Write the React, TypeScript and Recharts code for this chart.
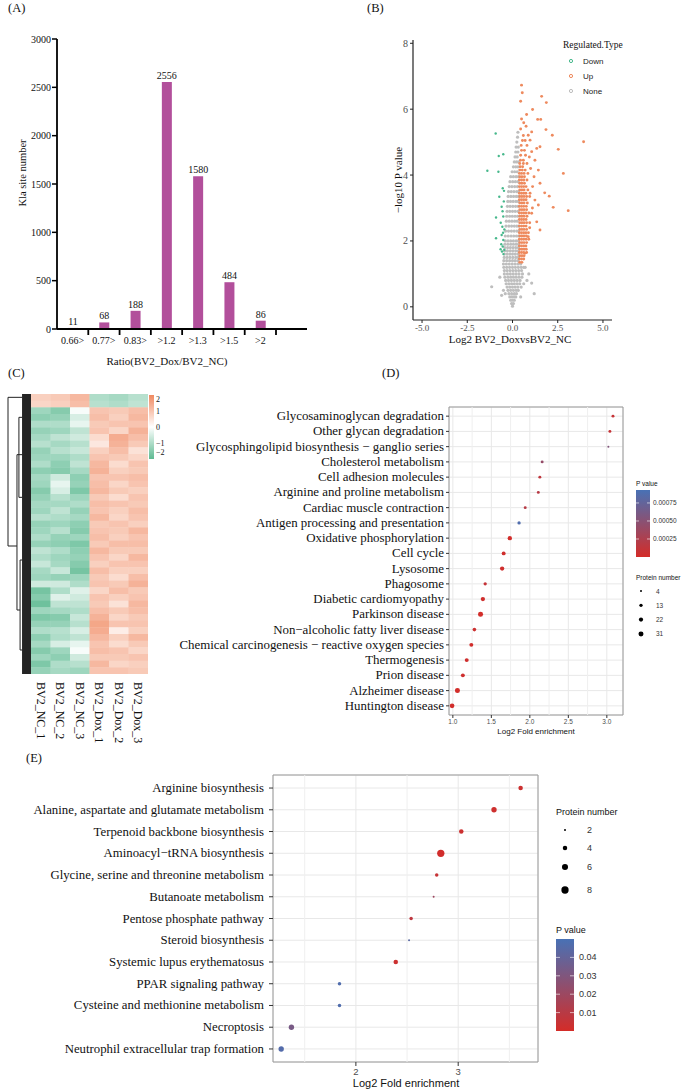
import React from 'react';
import {
  BarChart,
  Bar,
  XAxis,
  YAxis,
  LabelList,
  ScatterChart,
  Scatter,
  CartesianGrid,
  ReferenceLine,
  ReferenceArea,
} from 'recharts';

const SERIF = '"Liberation Serif", "Times New Roman", serif';
const SANS = '"Liberation Sans", Arial, sans-serif';

// (A) Kla sites per ratio bin
const ratioBins = ['0.66>', '0.77>', '0.83>', '>1.2', '>1.3', '>1.5', '>2'];
const klaSites = [11, 68, 188, 2556, 1580, 484, 86];
const klaTicks = [0, 500, 1000, 1500, 2000, 2500, 3000];

// (B) volcano. Dense parts as [-log10 p, [log2 FC...]] rows, sparse parts as [log2 FC, -log10 p]
const noneRows: [number, number[]][] = [
  [0.02, [0]], [0.1, [-0.05, 0.05]], [0.2, [-0.1, 0, 0.1]],
  [0.3, [-0.15, -0.03, 0.08, 0.18, 0.45]], [0.4, [-0.4, -0.2, -0.05, 0.1, 0.22]],
  [0.5, [-0.5, -0.25, -0.1, 0.05, 0.2, 0.32]], [0.6, [-0.3, -0.15, 0, 0.15, 0.3, 0.48]],
  [0.7, [-0.35, -0.2, -0.05, 0.1, 0.25, 0.4, 0.62]], [0.8, [-0.38, -0.22, -0.06, 0.1, 0.26, 0.42]],
  [0.9, [-0.42, -0.25, -0.1, 0.05, 0.2, 0.36, 0.52]], [1.0, [-0.45, -0.28, -0.12, 0.04, 0.2, 0.36, 0.55]],
  [1.1, [-0.45, -0.3, -0.14, 0.02, 0.18, 0.34, 0.5]], [1.2, [-0.48, -0.32, -0.16, 0, 0.16, 0.32, 0.48, 0.62]],
  [1.3, [-0.5, -0.34, -0.18, -0.02, 0.14, 0.3, 0.45]], [1.4, [-0.48, -0.32, -0.16, 0, 0.15, 0.3]],
  [1.5, [-0.46, -0.3, -0.14, 0.02, 0.18, 0.32]], [1.6, [-0.45, -0.3, -0.15, 0, 0.15, 0.3]],
  [1.7, [-0.44, -0.28, -0.12, 0.03, 0.18, 0.32]], [1.8, [-0.43, -0.27, -0.12, 0.03, 0.18, 0.32]],
  [1.9, [-0.42, -0.26, -0.1, 0.05, 0.2, 0.33]], [2.0, [-0.4, -0.25, -0.1, 0.05, 0.2, 0.33]],
  [2.15, [-0.4, -0.24, -0.08, 0.07, 0.22, 0.34]], [2.3, [-0.38, -0.22, -0.06, 0.09, 0.24, 0.34]],
  [2.45, [-0.36, -0.2, -0.05, 0.1, 0.24, 0.35]], [2.6, [-0.34, -0.18, -0.03, 0.12, 0.26]],
  [2.75, [-0.32, -0.16, -0.01, 0.14, 0.28]], [2.9, [-0.3, -0.15, 0, 0.15, 0.3]],
  [3.05, [-0.28, -0.13, 0.02, 0.17, 0.31]], [3.2, [-0.26, -0.11, 0.04, 0.19, 0.32]],
  [3.35, [-0.24, -0.09, 0.06, 0.21, 0.33]], [3.5, [-0.22, -0.07, 0.08, 0.23, 0.34]],
  [3.65, [-0.18, -0.03, 0.12, 0.27]], [3.8, [-0.14, 0.01, 0.16, 0.3]], [3.95, [-0.1, 0.05, 0.2, 0.33]],
  [4.1, [-0.02, 0.12, 0.26]], [4.25, [0.05, 0.18, 0.3]], [4.4, [0.1, 0.22, 0.33]],
  [4.55, [0.14, 0.26]], [4.7, [0.18, 0.3]], [4.85, [0.2, 0.32]], [5.0, [0.24]], [5.15, [0.28]], [5.3, [0.3]],
];
const noneOutliers = [[-1.15, 0.61], [1.06, 0.72], [1.2, 0.4], [-0.6, 0.35], [0.9, 1.0], [0.7, 1.2], [0.8, 0.8], [-0.7, 0.9]];
const upRows: [number, number[]][] = [
  [1.35, [0.4, 0.52]], [1.45, [0.38, 0.5, 0.62]], [1.55, [0.4, 0.52, 0.64]], [1.65, [0.38, 0.5, 0.62, 0.78]],
  [1.75, [0.4, 0.52, 0.64, 0.76]], [1.85, [0.38, 0.5, 0.62, 0.74]], [1.95, [0.4, 0.52, 0.64, 0.78]],
  [2.05, [0.38, 0.5, 0.62, 0.75, 0.9]], [2.15, [0.4, 0.52, 0.64, 0.77]], [2.25, [0.38, 0.5, 0.62, 0.74, 0.88]],
  [2.35, [0.4, 0.52, 0.64, 0.78]], [2.45, [0.38, 0.5, 0.62, 0.75]], [2.55, [0.4, 0.52, 0.64, 0.78, 0.95]],
  [2.65, [0.38, 0.5, 0.62, 0.75]], [2.75, [0.4, 0.52, 0.64, 0.8]], [2.85, [0.38, 0.5, 0.62, 0.74, 0.9]],
  [2.95, [0.4, 0.52, 0.64, 0.78]], [3.05, [0.38, 0.5, 0.62, 0.76]], [3.15, [0.4, 0.52, 0.64, 0.82]],
  [3.25, [0.38, 0.5, 0.62, 0.75]], [3.35, [0.4, 0.52, 0.64, 0.78, 0.95]], [3.45, [0.38, 0.5, 0.62, 0.74]],
  [3.55, [0.4, 0.52, 0.64, 0.85]], [3.65, [0.38, 0.5, 0.62, 0.75]], [3.75, [0.4, 0.52, 0.66]],
  [3.85, [0.38, 0.5, 0.62, 0.8]], [3.95, [0.4, 0.52, 0.66]], [4.05, [0.38, 0.5, 0.64, 0.85]],
  [4.15, [0.4, 0.54, 0.7]], [4.25, [0.42, 0.56]], [4.35, [0.4, 0.6, 0.8]], [4.45, [0.44, 0.6]],
  [4.6, [0.45, 0.72]], [4.75, [0.5, 0.66]], [4.9, [0.48, 0.8]], [5.05, [0.55, 0.7]],
];
const upOutliers = [
  [0.5, 6.73], [0.54, 6.5], [0.45, 6.24], [1.61, 6.39], [1.87, 6.2], [1.11, 5.99], [0.78, 5.84], [1.39, 5.69],
  [1.56, 5.69], [0.62, 5.59], [0.75, 5.48], [1.06, 5.31], [1.85, 5.38], [2.2, 5.21], [2.53, 4.78], [3.93, 5.01],
  [2.81, 4.05], [3.08, 2.92], [2.25, 3.02], [1.78, 3.46], [2.03, 3.36], [1.52, 3.75], [1.43, 3.09], [1.52, 2.33],
  [1.34, 2.58], [0.87, 2.13], [0.69, 1.63], [1.34, 4.81], [1.52, 4.86], [1.24, 4.45], [1.43, 4.15], [0.97, 5.06],
  [0.87, 5.21], [1.06, 4.71], [0.93, 4.55], [1.19, 3.95], [1.11, 3.65], [0.97, 3.45], [1.24, 3.24], [1.06, 2.84],
  [0.45, 5.4], [0.6, 5.2], [0.5, 5.7], [1.0, 4.2], [1.1, 3.0], [0.95, 2.4],
];
const downPoints = [
  [-0.93, 5.26], [-1.39, 4.13], [-0.78, 4.1], [-0.76, 4.58], [-0.51, 4.63], [-0.54, 3.6], [-0.47, 3.52],
  [-0.91, 2.71], [-0.73, 3.34], [-0.6, 3.04], [-0.51, 2.74], [-0.56, 2.43], [-0.45, 2.35], [-0.6, 2.18],
  [-0.91, 2.08], [-0.51, 2.03], [-0.54, 1.83], [-0.45, 1.73], [-0.58, 1.68], [-0.5, 1.6], [-0.62, 1.9],
  [-0.55, 2.9], [-0.65, 2.55], [-0.48, 3.2], [-0.66, 1.75], [-0.52, 2.25],
];

// (C) heatmap, z-scores per row
const sampleNames = ['BV2_NC_1', 'BV2_NC_2', 'BV2_NC_3', 'BV2_Dox_1', 'BV2_Dox_2', 'BV2_Dox_3'];
const nc1 = [
  0.8, 0.7, -1.2, -1.4, -1.0, -1.3, -1.1,
  -0.9, -1.3, -1.2, -1.0, -1.4, -1.1, -1.2,
  -1.5, -1.3, -1.1, -1.2, -0.9, -1.3, -1.2,
  -1.0, -1.3, -0.8, -1.0, -0.7, -1.1, -1.2,
  -0.6, -1.7, -1.5, -1.8, -1.2, -1.6, -1.3,
  -1.0, -1.4, -1.1, -1.5, -1.2, -1.6, -1.3,
];
const nc2 = [
  0.9, 0.8, -1.5, -1.3, -1.0, -1.2, -0.8,
  -1.1, -0.9, -1.2, -1.4, -1.5, -0.6, -0.3,
  -0.5, -0.9, -1.1, -0.8, -1.0, -1.2, -0.9,
  -1.3, -1.4, -1.0, -1.2, -1.1, -0.7, -1.3,
  -0.6, -1.0, -0.4, -0.8, -1.1, -1.5, -1.3,
  -0.9, -1.0, -0.5, -1.2, -1.4, -1.0, -1.1,
];
const nc3 = [
  1.2, 1.1, -0.1, -0.5, -0.3, -0.8, -0.6,
  -0.9, -0.7, -1.0, -0.8, -1.1, -1.4, -1.3,
  -1.6, -1.2, -1.0, -1.3, -1.1, -1.4, -1.5,
  -1.2, -1.6, -1.4, -1.3, -1.5, -1.7, -1.2,
  -1.0, -0.4, -0.6, -0.8, -1.0, -0.7, -0.9,
  -0.5, -0.8, -0.3, -0.1, -0.6, -0.9, -1.2,
];
const dox1 = [
  -1.0, -0.9, 1.0, 1.1, 0.9, 1.0, 0.6,
  0.4, 0.8, 1.0, 1.2, 1.3, 1.0, 1.1,
  1.2, 0.9, 1.1, 1.0, 1.2, 0.9, 1.0,
  1.1, 0.9, 1.2, 1.0, 0.8, 1.1, 0.9,
  1.0, 0.7, 1.0, 0.9, 1.1, 1.3, 1.5,
  1.4, 1.2, 1.0, 1.1, 0.9, 1.2, 1.0,
];
const dox2 = [
  -1.1, -1.0, 0.9, 0.8, 1.0, 0.7, 1.4,
  1.3, 1.1, 0.9, 0.6, 0.8, 1.0, 0.7,
  0.9, 0.6, 1.0, 0.8, 0.7, 1.0, 0.9,
  0.8, 1.1, 0.9, 0.7, 1.0, 0.8, 0.6,
  0.9, 1.1, 0.8, 0.5, 0.9, 0.7, 1.0,
  0.3, 0.8, 0.6, 1.0, 0.9, 0.7, 1.0,
];
const dox3 = [
  -0.9, -0.8, 1.1, 1.2, 1.0, 1.3, 1.1,
  0.9, 0.5, 0.7, 1.0, 0.9, 1.1, 1.0,
  0.8, 1.0, 0.9, 1.1, 1.0, 0.8, 1.2,
  1.0, 1.1, 0.9, 1.2, 1.0, 0.8, 1.1,
  1.3, 0.9, 1.0, 1.2, 1.1, 0.9, 1.0,
  0.8, 1.2, 0.9, 0.7, 1.0, 0.8, 0.9,
];
const heatLegendTicks = [2, 1, 0, -1, -2];
// dendrogram links [x1, row1, x2, row2], x in column units
const dendroLinks = [
  [-1.68, 0, -1.68, 22.3], [-1.68, 0, -0.96, 0], [-1.68, 22.3, -1.22, 22.3],
  [-1.22, 8.6, -1.22, 31.9], [-1.22, 8.6, -0.96, 8.6], [-1.22, 31.9, -1.06, 31.9],
  [-1.06, 24.4, -1.06, 37.9], [-1.06, 24.4, -0.96, 24.4], [-1.06, 37.9, -0.96, 37.9],
  [-1.12, 3, -1.12, 15], [-1.12, 3, -0.96, 3], [-1.12, 15, -0.96, 15],
];

// (D) KEGG enrichment
const dTerms = [
  'Glycosaminoglycan degradation',
  'Other glycan degradation',
  'Glycosphingolipid biosynthesis − ganglio series',
  'Cholesterol metabolism',
  'Cell adhesion molecules',
  'Arginine and proline metabolism',
  'Cardiac muscle contraction',
  'Antigen processing and presentation',
  'Oxidative phosphorylation',
  'Cell cycle',
  'Lysosome',
  'Phagosome',
  'Diabetic cardiomyopathy',
  'Parkinson disease',
  'Non−alcoholic fatty liver disease',
  'Chemical carcinogenesis − reactive oxygen species',
  'Thermogenesis',
  'Prion disease',
  'Alzheimer disease',
  'Huntington disease',
];
const dFold = [3.08, 3.04, 3.02, 2.16, 2.13, 2.11, 1.94, 1.86, 1.74, 1.66, 1.64, 1.42, 1.39, 1.36, 1.28, 1.24, 1.18, 1.13, 1.06, 0.99];
const dCount = [10, 10, 4, 10, 10, 10, 10, 13, 23, 19, 23, 13, 23, 31, 16, 19, 19, 19, 31, 27];
const dPValue = [
  0.00009, 0.0001, 0.00055, 0.00042, 0.00014, 0.00019, 0.0002, 0.00088, 0.00001, 0.00003,
  0.00003, 0.0001, 0.00003, 0.00001, 0.00005, 0.00002, 0.00003, 0.00004, 0.00001, 0.00002,
];
const dSizeBreaks = [4, 13, 22, 31];
const dPTicks = [0.00075, 0.0005, 0.00025];

// (E) enrichment, second set
const eTerms = [
  'Arginine biosynthesis',
  'Alanine, aspartate and glutamate metabolism',
  'Terpenoid backbone biosynthesis',
  'Aminoacyl−tRNA biosynthesis',
  'Glycine, serine and threonine metabolism',
  'Butanoate metabolism',
  'Pentose phosphate pathway',
  'Steroid biosynthesis',
  'Systemic lupus erythematosus',
  'PPAR signaling pathway',
  'Cysteine and methionine metabolism',
  'Necroptosis',
  'Neutrophil extracellular trap formation',
];
const eFold = [3.61, 3.35, 3.03, 2.83, 2.79, 2.76, 2.54, 2.52, 2.39, 1.84, 1.84, 1.37, 1.27];
const eCount = [4, 5, 4, 8, 3, 2, 3, 2, 4, 3, 3, 5, 5];
const ePValue = [0.003, 0.002, 0.003, 0.001, 0.005, 0.02, 0.008, 0.044, 0.003, 0.047, 0.047, 0.033, 0.046];
const eSizeBreaks = [2, 4, 6, 8];
const ePTicks = [0.04, 0.03, 0.02, 0.01];

// ---- helpers
const mix = (a: number[], b: number[], t: number) =>
  `rgb(${a.map((v, i) => Math.round(v + (b[i] - v) * t)).join(',')})`;
const RED = [212, 44, 40];
const BLUE = [72, 113, 181];
const pColor = (t: number) => mix(RED, BLUE, Math.max(0, Math.min(1, t)));
const GREEN = [94, 186, 146];
const WHITE = [255, 255, 255];
const ORANGE = [240, 137, 96];
const heatColor = (v: number) =>
  v >= 0 ? mix(WHITE, ORANGE, Math.min(v / 2, 1)) : mix(WHITE, GREEN, Math.min(-v / 2, 1));
const rD = (n: number) => Math.sqrt(1 + (n - 4) * 0.194);
const rE = (n: number) => Math.sqrt(1 + (n - 2) * 2.05);
const D_PMAX = 0.00093;
const E_PMAX = 0.05;

const barData = ratioBins.map((bin, i) => ({ bin, sites: klaSites[i] }));
const toXY = (pts: number[][]) => pts.map(([x, y]) => ({ x, y }));
const fromRows = (rows: [number, number[]][]) => rows.flatMap(([y, xs]) => xs.map((x) => ({ x, y })));
const noneData = [...fromRows(noneRows), ...toXY(noneOutliers)];
const upData = [...fromRows(upRows), ...toXY(upOutliers)];
const downData = toXY(downPoints);
const heatCols = [nc1, nc2, nc3, dox1, dox2, dox3];
const heatRows = nc1.length;
const heatData = heatCols.flatMap((col, c) => col.map((v, r) => ({ col: c, row: r, v })));
const dData = dTerms.map((t, i) => ({ rank: i + 1, fold: dFold[i], n: dCount[i], p: dPValue[i] }));
const eData = eTerms.map((t, i) => ({ rank: i + 1, fold: eFold[i], n: eCount[i], p: ePValue[i] }));

// ---- panel A
const BAND_A = 219 / 7;
const RatioTick = (props: any) => {
  const { x, y, payload } = props;
  return (
    <g>
      <line x1={x + BAND_A / 2} x2={x + BAND_A / 2} y1={y - 7} y2={y - 1} stroke="#000" strokeWidth={1.8} />
      <text x={x} y={y + 1} dy="0.71em" textAnchor="middle" fontSize={10} fontFamily={SERIF} fill="#111">
        {payload.value}
      </text>
    </g>
  );
};

const PanelA = () => (
  <BarChart width={330} height={370} data={barData} margin={{ top: 39, right: 23, bottom: 1, left: 12 }}>
    <XAxis
      dataKey="bin"
      height={40}
      padding={{ left: 0, right: 31 }}
      tickLine={false}
      tickSize={5}
      tickMargin={2}
      interval={0}
      axisLine={{ stroke: '#000', strokeWidth: 1.8 }}
      tick={<RatioTick />}
    />
    <YAxis
      width={45}
      domain={[0, 3000]}
      ticks={klaTicks}
      interval={0}
      tickSize={5}
      tickMargin={1}
      axisLine={{ stroke: '#000', strokeWidth: 1.8 }}
      tickLine={{ stroke: '#000', strokeWidth: 1.5 }}
      tick={{ fontSize: 10, fontFamily: SERIF, fill: '#111' }}
    />
    <Bar dataKey="sites" fill="#b24f9b" barSize={10} isAnimationActive={false}>
      <LabelList dataKey="sites" position="top" offset={3} style={{ fontSize: 10, fontFamily: SERIF, fill: '#111' }} />
    </Bar>
  </BarChart>
);

// ---- panel B
const dot = (color: string, r: number) => (p: any) => <circle cx={p.cx} cy={p.cy} r={r} fill={color} />;

const PanelB = () => (
  <ScatterChart width={345} height={360} margin={{ top: 40, right: 73, bottom: 10, left: 33 }}>
    <XAxis
      type="number"
      dataKey="x"
      domain={[-5.5, 5.5]}
      allowDataOverflow
      ticks={[-5, -2.5, 0, 2.5, 5]}
      interval={0}
      tickFormatter={(v: number) => v.toFixed(1)}
      height={30}
      tickSize={3}
      tickMargin={2}
      axisLine={{ stroke: '#222', strokeWidth: 1.2 }}
      tickLine={{ stroke: '#222' }}
      tick={{ fontSize: 9, fontFamily: SERIF, fill: '#4d4d4d' }}
    />
    <YAxis
      type="number"
      dataKey="y"
      domain={[-0.4, 8.1]}
      allowDataOverflow
      ticks={[0, 2, 4, 6, 8]}
      interval={0}
      width={40}
      tickSize={3}
      tickMargin={2}
      axisLine={{ stroke: '#222', strokeWidth: 1.2 }}
      tickLine={{ stroke: '#222' }}
      tick={{ fontSize: 10, fontFamily: SERIF, fill: '#4d4d4d' }}
    />
    <Scatter data={noneData} shape={dot('#bebebe', 1.6)} isAnimationActive={false} />
    <Scatter data={downData} shape={dot('#47b88c', 1.2)} isAnimationActive={false} />
    <Scatter data={upData} shape={dot('#ee8a5e', 1.45)} isAnimationActive={false} />
  </ScatterChart>
);

// ---- panel C
const CELL_W = 140 / 7.18;
const CELL_H = 280 / heatRows;
const HeatCell = (p: any) => (
  <rect
    x={p.cx - CELL_W / 2}
    y={p.cy - CELL_H / 2}
    width={CELL_W + 0.4}
    height={CELL_H + 0.4}
    fill={heatColor(p.payload.v)}
  />
);
const SampleTick = (props: any) => {
  const { x, y, payload } = props;
  return (
    <text
      x={x}
      y={y}
      transform={`rotate(90, ${x}, ${y})`}
      dominantBaseline="central"
      fontSize={12}
      fontFamily={SERIF}
      fill="#111"
    >
      {sampleNames[payload.value]}
    </text>
  );
};

const PanelC = () => (
  <ScatterChart width={175} height={364} margin={{ top: 14, right: 27, bottom: 0, left: 8 }}>
    <XAxis
      type="number"
      dataKey="col"
      domain={[-1.68, 5.5]}
      allowDataOverflow
      ticks={[0, 1, 2, 3, 4, 5]}
      interval={0}
      height={70}
      axisLine={false}
      tickLine={false}
      tickSize={4}
      tickMargin={4}
      tick={<SampleTick />}
    />
    <YAxis type="number" dataKey="row" domain={[-0.5, heatRows - 0.5]} reversed allowDataOverflow hide />
    <Scatter data={heatData} shape={HeatCell} isAnimationActive={false} />
    <ReferenceArea x1={-0.96} x2={-0.5} y1={-0.5} y2={heatRows - 0.5} fill="#111" fillOpacity={0.92} stroke="none" ifOverflow="visible" />
    {dendroLinks.map(([x1, y1, x2, y2], i) => (
      <ReferenceLine
        key={i}
        segment={[{ x: x1, y: y1 }, { x: x2, y: y2 }]}
        stroke="#222"
        strokeWidth={1}
        ifOverflow="visible"
      />
    ))}
  </ScatterChart>
);

// ---- panels D and E
const bubble = (rFn: (n: number) => number, pMax: number) => (p: any) => (
  <circle cx={p.cx} cy={p.cy} r={rFn(p.payload.n)} fill={pColor(p.payload.p / pMax)} />
);
const termTick = (names: string[], fontSize: number) => (props: any) => (
  <text
    x={props.x}
    y={props.y}
    textAnchor="end"
    dominantBaseline="central"
    fontSize={fontSize}
    fontFamily={SERIF}
    fill="#111"
  >
    {names[props.payload.value - 1]}
  </text>
);

const PanelD = () => (
  <ScatterChart width={515} height={360} margin={{ top: 27, right: 62, bottom: 0, left: 9 }}>
    <CartesianGrid stroke="#e8e8e8" />
    {[1.25, 1.75, 2.25, 2.75].map((v) => (
      <ReferenceLine key={v} x={v} stroke="#efefef" />
    ))}
    <XAxis
      type="number"
      dataKey="fold"
      domain={[0.95, 3.21]}
      allowDataOverflow
      ticks={[1, 1.5, 2, 2.5, 3]}
      interval={0}
      tickFormatter={(v: number) => v.toFixed(1)}
      height={25}
      axisLine={false}
      tickSize={3}
      tickMargin={1}
      tickLine={{ stroke: '#333' }}
      tick={{ fontSize: 6.5, fontFamily: SANS, fill: '#4d4d4d' }}
    />
    <YAxis
      type="number"
      dataKey="rank"
      domain={[0.4, 20.6]}
      reversed
      allowDataOverflow
      ticks={dTerms.map((t, i) => i + 1)}
      interval={0}
      width={270}
      axisLine={false}
      tickSize={3}
      tickMargin={2}
      tickLine={{ stroke: '#333' }}
      tick={termTick(dTerms, 12.9)}
    />
    <ReferenceArea x1={0.95} x2={3.21} y1={0.4} y2={20.6} fill="none" stroke="#9a9a9a" ifOverflow="visible" />
    <Scatter data={dData} shape={bubble(rD, D_PMAX)} isAnimationActive={false} />
  </ScatterChart>
);

const PanelE = () => (
  <ScatterChart width={685} height={331} margin={{ top: 15, right: 147, bottom: 1, left: 5 }}>
    <CartesianGrid stroke="#e8e8e8" />
    {[1.5, 2.5, 3.5].map((v) => (
      <ReferenceLine key={v} x={v} stroke="#efefef" />
    ))}
    <XAxis
      type="number"
      dataKey="fold"
      domain={[1.19, 3.78]}
      allowDataOverflow
      ticks={[2, 3]}
      interval={0}
      height={28}
      axisLine={false}
      tickSize={4}
      tickMargin={2}
      tickLine={{ stroke: '#333' }}
      tick={{ fontSize: 9.5, fontFamily: SANS, fill: '#4d4d4d' }}
    />
    <YAxis
      type="number"
      dataKey="rank"
      domain={[0.4, 13.6]}
      reversed
      allowDataOverflow
      ticks={eTerms.map((t, i) => i + 1)}
      interval={0}
      width={268}
      axisLine={false}
      tickSize={4}
      tickMargin={5}
      tickLine={{ stroke: '#333' }}
      tick={termTick(eTerms, 12.8)}
    />
    <ReferenceArea x1={1.19} x2={3.78} y1={0.4} y2={13.6} fill="none" stroke="#9a9a9a" ifOverflow="visible" />
    <Scatter data={eData} shape={bubble(rE, E_PMAX)} isAnimationActive={false} />
  </ScatterChart>
);

// ---- text and legends drawn over the charts
const Overlay = () => {
  const heatY = (v: number) => 395 + ((2 - v) / 4) * 64;
  const dBarY = (p: number) => 557 - (p / D_PMAX) * 67;
  const eBarY = (p: number) => 1031 - (p / E_PMAX) * 92;
  const eKeyY = [830, 848, 867, 890];
  return (
    <svg width={685} height={1091} style={{ position: 'absolute', left: 0, top: 0, pointerEvents: 'none' }}>
      <defs>
        <linearGradient id="heatGrad" x1="0" y1="0" x2="0" y2="1">
          <stop offset="0" stopColor={heatColor(2)} />
          <stop offset="0.5" stopColor={heatColor(0)} />
          <stop offset="1" stopColor={heatColor(-2)} />
        </linearGradient>
        <linearGradient id="pGrad" x1="0" y1="0" x2="0" y2="1">
          <stop offset="0" stopColor={pColor(1)} />
          <stop offset="0.5" stopColor={pColor(0.5)} />
          <stop offset="1" stopColor={pColor(0)} />
        </linearGradient>
      </defs>
      <g fontFamily={SERIF} fontSize={12.5} fill="#111" dominantBaseline="central">
        <text x={8} y={8}>(A)</text>
        <text x={367} y={8}>(B)</text>
        <text x={8} y={373}>(C)</text>
        <text x={382} y={373}>(D)</text>
        <text x={26} y={758}>(E)</text>
      </g>
      {/* A titles */}
      <text x={22} y={173} transform="rotate(-90, 22, 173)" textAnchor="middle" dominantBaseline="central" fontFamily={SERIF} fontSize={10.5} fill="#111">
        Kla site number
      </text>
      <text x={167} y={361} textAnchor="middle" dominantBaseline="central" fontFamily={SERIF} fontSize={11} fill="#111">
        Ratio(BV2_Dox/BV2_NC)
      </text>
      {/* B titles and legend */}
      <text x={398} y={180} transform="rotate(-90, 398, 180)" textAnchor="middle" dominantBaseline="central" fontFamily={SERIF} fontSize={11} fill="#111">
        −log10 P value
      </text>
      <text x={510} y={339} textAnchor="middle" dominantBaseline="central" fontFamily={SERIF} fontSize={11} fill="#111">
        Log2 BV2_DoxvsBV2_NC
      </text>
      <text x={563} y={45} dominantBaseline="central" fontFamily={SERIF} fontSize={9.5} fill="#111">
        Regulated.Type
      </text>
      {[
        ['Down', '#47b88c', 61],
        ['Up', '#ee8a5e', 76],
        ['None', '#bdbdbd', 91],
      ].map(([name, color, y]) => (
        <g key={name as string}>
          <circle cx={571} cy={y as number} r={1.6} fill="#fff" stroke={color as string} strokeWidth={1} />
          <text x={583} y={y as number} dominantBaseline="central" fontFamily={SANS} fontSize={8} fill="#222">
            {name}
          </text>
        </g>
      ))}
      {/* C colour key */}
      <rect x={149} y={395} width={5} height={64} fill="url(#heatGrad)" />
      {heatLegendTicks.map((v) => (
        <text key={v} x={156} y={Math.min(Math.max(heatY(v), 399), 452)} dominantBaseline="central" fontFamily={SERIF} fontSize={8} fill="#111">
          {v < 0 ? `−${-v}` : v}
        </text>
      ))}
      {/* D legends and x title */}
      <text x={536} y={731} textAnchor="middle" dominantBaseline="central" fontFamily={SANS} fontSize={8} fill="#111">
        Log2 Fold enrichment
      </text>
      <text x={636} y={483} dominantBaseline="central" fontFamily={SANS} fontSize={6.5} fill="#111">P value</text>
      <rect x={636} y={490} width={14} height={67} fill="url(#pGrad)" />
      {dPTicks.map((p) => (
        <g key={p}>
          <line x1={636} x2={639} y1={dBarY(p)} y2={dBarY(p)} stroke="#fff" strokeWidth={0.6} />
          <line x1={647} x2={650} y1={dBarY(p)} y2={dBarY(p)} stroke="#fff" strokeWidth={0.6} />
          <text x={653} y={dBarY(p)} dominantBaseline="central" fontFamily={SANS} fontSize={6.5} fill="#333">
            {p.toFixed(5)}
          </text>
        </g>
      ))}
      <text x={636} y={577} dominantBaseline="central" fontFamily={SANS} fontSize={6.5} fill="#111">Protein number</text>
      {dSizeBreaks.map((n, i) => (
        <g key={n}>
          <circle cx={641} cy={591 + i * 14.3} r={rD(n)} fill="#000" />
          <text x={656} y={591 + i * 14.3} dominantBaseline="central" fontFamily={SANS} fontSize={6.5} fill="#333">{n}</text>
        </g>
      ))}
      {/* E legends and x title */}
      <text x={406} y={1083} textAnchor="middle" dominantBaseline="central" fontFamily={SANS} fontSize={11} fill="#111">
        Log2 Fold enrichment
      </text>
      <text x={556} y={812} dominantBaseline="central" fontFamily={SANS} fontSize={9} fill="#111">Protein number</text>
      {eSizeBreaks.map((n, i) => (
        <g key={n}>
          <circle cx={565} cy={eKeyY[i]} r={rE(n)} fill="#000" />
          <text x={587} y={eKeyY[i]} dominantBaseline="central" fontFamily={SANS} fontSize={9} fill="#333">{n}</text>
        </g>
      ))}
      <text x={556} y={930} dominantBaseline="central" fontFamily={SANS} fontSize={9} fill="#111">P value</text>
      <rect x={556} y={939} width={18} height={92} fill="url(#pGrad)" />
      {ePTicks.map((p) => (
        <g key={p}>
          <line x1={556} x2={560} y1={eBarY(p)} y2={eBarY(p)} stroke="#fff" strokeWidth={0.6} />
          <line x1={570} x2={574} y1={eBarY(p)} y2={eBarY(p)} stroke="#fff" strokeWidth={0.6} />
          <text x={579} y={eBarY(p)} dominantBaseline="central" fontFamily={SANS} fontSize={9} fill="#333">
            {p.toFixed(2)}
          </text>
        </g>
      ))}
    </svg>
  );
};

const App = () => (
  <div style={{ position: 'absolute', left: 0, top: 0, width: 685, height: 1091, background: '#fff', overflow: 'hidden' }}>
    <div style={{ position: 'absolute', left: 0, top: 0 }}>
      <PanelA />
    </div>
    <div style={{ position: 'absolute', left: 340, top: 0 }}>
      <PanelB />
    </div>
    <div style={{ position: 'absolute', left: 0, top: 380 }}>
      <PanelC />
    </div>
    <div style={{ position: 'absolute', left: 170, top: 380 }}>
      <PanelD />
    </div>
    <div style={{ position: 'absolute', left: 0, top: 760 }}>
      <PanelE />
    </div>
    <Overlay />
  </div>
);

export default App;
